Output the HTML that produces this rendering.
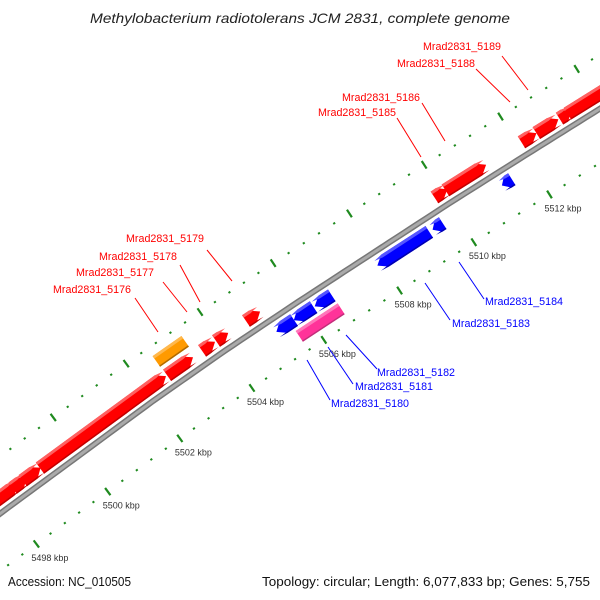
<!DOCTYPE html>
<html><head><meta charset="utf-8"><style>
body{margin:0;background:#fff}
svg{display:block;font-family:"Liberation Sans",sans-serif}
</style></head><body>
<svg id="chart" width="600" height="600" viewBox="0 0 600 600">
<text x="90" y="23" font-size="14" font-style="italic" fill="#222" textLength="420" lengthAdjust="spacingAndGlyphs">Methylobacterium radiotolerans JCM 2831, complete genome</text>
<g id="ticks"></g>
<g id="backbone"></g>
<g id="genes"></g>
<g id="labels"></g>
<text x="8" y="586" font-size="13" fill="#111" textLength="123" lengthAdjust="spacingAndGlyphs">Accession: NC_010505</text>
<text x="262" y="586" font-size="13" fill="#111" textLength="328" lengthAdjust="spacingAndGlyphs">Topology: circular; Length: 6,077,833 bp; Genes: 5,755</text>
</svg>
<script>
// axis anchors (kbp -> backbone screen position)
const axisKbp = [5496, 5498, 5500, 5502, 5504, 5506, 5508, 5510, 5512, 5514, 5516];
const axisX = [-62, 9, 80.5, 153, 226, 298.5, 374.5, 449, 525, 601, 677];
const axisY = [560, 507, 454.5, 401, 350, 301.5, 252, 203.5, 155.5, 108, 61];
// tick label data
const tickLabels = [5498, 5500, 5502, 5504, 5506, 5508, 5510, 5512];
// gene data
const geneStart = [5497.5, 5498.32, 5498.60, 5499.08, 5502.59, 5503.55, 5503.93, 5504.75, 5509.80, 5510.09, 5512.09, 5512.48, 5513.09, 5513.30, 5505.19, 5505.67, 5506.24, 5507.89, 5509.37, 5511.21];
const geneEnd =   [5498.45, 5498.71, 5499.10, 5502.56, 5503.30, 5503.90, 5504.26, 5505.14, 5510.14, 5511.16, 5512.48, 5513.06, 5513.40, 5514.6, 5505.68, 5506.21, 5506.69, 5509.28, 5509.64, 5511.47];
const geneStrand = [1,1,1,1,1,1,1,1,1,1,1,1,1,1,-1,-1,-1,-1,-1,-1];
// other features (boxes)
const featStart = [5502.57, 5505.57];
const featEnd = [5503.36, 5506.70];
const featSide = [-1, 1];
const featColor = ["orange", "pink"];

const NS = "http://www.w3.org/2000/svg";
function B(k){
  let i = 0;
  while (i < axisKbp.length - 2 && k > axisKbp[i+1]) i++;
  const f = (k - axisKbp[i]) / (axisKbp[i+1] - axisKbp[i]);
  return [axisX[i] + f*(axisX[i+1]-axisX[i]), axisY[i] + f*(axisY[i+1]-axisY[i])];
}
function P(k, off){
  const a = B(k - 0.3), b = B(k + 0.3), c = B(k);
  let tx = b[0]-a[0], ty = b[1]-a[1]; const L = Math.hypot(tx,ty); tx/=L; ty/=L;
  return [c[0] + off*(-ty), c[1] + off*tx];
}
function poly(pts, fill, name, parent){
  const p = document.createElementNS(NS, "polygon");
  p.setAttribute("points", pts.map(q => q[0].toFixed(1)+","+q[1].toFixed(1)).join(" "));
  p.setAttribute("fill", fill);
  
  
  parent.appendChild(p);
}
function el(tag, attrs, parent){
  const e = document.createElementNS(NS, tag);
  for (const k in attrs) e.setAttribute(k, attrs[k]);
  parent.appendChild(e); return e;
}

// ticks
const tg = document.getElementById("ticks");
for (let i = 0; i <= 50; i++) {
  const k = Math.round((5496 + i*0.4)*10)/10;
  const major = Math.abs(k/2 - Math.round(k/2)) < 1e-6;
  [46, -46].forEach(row => {
    const len = major ? 4.5 : 1;
    const a = P(k, row-len), b = P(k, row+len);
    const l = el("line", {x1:a[0],y1:a[1],x2:b[0],y2:b[1],stroke:"#1f8a1f","stroke-width":2.2}, tg);
    
    
  });
}
tickLabels.forEach(k => {
  const p = P(k, 46);
  const t = el("text", {x:p[0]-5, y:p[1]+17, "font-size":9, fill:"#333"}, tg);
  t.textContent = k + " kbp";
  
  
});

// backbone
const bg = document.getElementById("backbone");
let pts = [];
for (let k = 5496; k <= 5516; k += 0.2) pts.push(B(k));
const ptsStr = pts.map(q => q[0].toFixed(1)+","+q[1].toFixed(1)).join(" ");
const b1 = el("polyline", {points:ptsStr, fill:"none", stroke:"#777", "stroke-width":6}, bg);


const b2 = el("polyline", {points:ptsStr, fill:"none", stroke:"#aaa", "stroke-width":3}, bg);



// genes
const gg = document.getElementById("genes");
const pal = {red:["#ff0000","#ff6060","#c00000"], blue:["#0000ff","#5555ff","#0000b0"],
             orange:["#ff9a00","#ffb84d","#b06a00"], pink:["#ff3399","#ff77bb","#c0307a"]};
function arrowPts(s, e, dir, o1, o2){
  const h = Math.min(0.2, (e-s)*0.6), m = (o1+o2)/2;
  if (dir > 0) return [P(s,o1), P(e-h,o1), P(e,m), P(e-h,o2), P(s,o2)];
  return [P(e,o1), P(s+h,o1), P(s,m), P(s+h,o2), P(e,o2)];
}
for (let i = 0; i < geneStart.length; i++) {
  const dir = geneStrand[i], c = dir > 0 ? pal.red : pal.blue;
  const o1 = dir > 0 ? -20 : 6, o2 = dir > 0 ? -6 : 20;
  const s = geneStart[i], e = geneEnd[i];
  poly(arrowPts(s, e, dir, o1, o2), c[0], dir > 0 ? "forward-gene" : "reverse-gene", gg);
  poly(arrowPts(s, e, dir, o1, o1+3), c[1], "gene-bevel-light", gg);
  poly(arrowPts(s, e, dir, o2-1.5, o2), c[2], "gene-bevel-dark", gg);
}
for (let i = 0; i < featStart.length; i++) {
  const c = pal[featColor[i]];
  const o1 = featSide[i] < 0 ? -37 : 23, o2 = featSide[i] < 0 ? -24 : 36;
  const s = featStart[i], e = featEnd[i];
  poly([P(s,o1),P(e,o1),P(e,o2),P(s,o2)], c[0], featColor[i] + "-feature", gg);
  poly([P(s,o1),P(e,o1),P(e,o1+3),P(s,o1+3)], c[1], "feature-bevel-light", gg);
  poly([P(s,o2-1.5),P(e,o2-1.5),P(e,o2),P(s,o2)], c[2], "feature-bevel-dark", gg);
}

// gene labels
const lg = document.getElementById("labels");
const labelText = ["Mrad2831_5176","Mrad2831_5177","Mrad2831_5178","Mrad2831_5179","Mrad2831_5185","Mrad2831_5186","Mrad2831_5188","Mrad2831_5189","Mrad2831_5184","Mrad2831_5183","Mrad2831_5182","Mrad2831_5181","Mrad2831_5180"];
const labelColor = ["red","red","red","red","red","red","red","red","blue","blue","blue","blue","blue"];
const lx = [53,76,99,126,318,342,397,423,485,452,377,355,331];
const ly = [293,276,260,242,116,101,67,50,305,327,376,390,407];
const lines = [[135,298,158,332],[163,282,187,312],[180,265,200,302],[207,250,232,281],[397,118,421,157],[422,103,445,141],[476,69,510,102],[502,56,528,90],[484,299,459,262],[450,320,425,283],[377,369,346,335],[353,384,328,347],[330,400,307,360]];
for (let i = 0; i < labelText.length; i++) {
  const ln = lines[i];
  const l = el("line", {x1:ln[0],y1:ln[1],x2:ln[2],y2:ln[3],stroke:labelColor[i],"stroke-width":1}, lg);
  
  
  const t = el("text", {x:lx[i], y:ly[i], "font-size":11, fill:labelColor[i], textLength:78, lengthAdjust:"spacingAndGlyphs"}, lg);
  t.textContent = labelText[i];
  
  
}
</script>
</body></html>
